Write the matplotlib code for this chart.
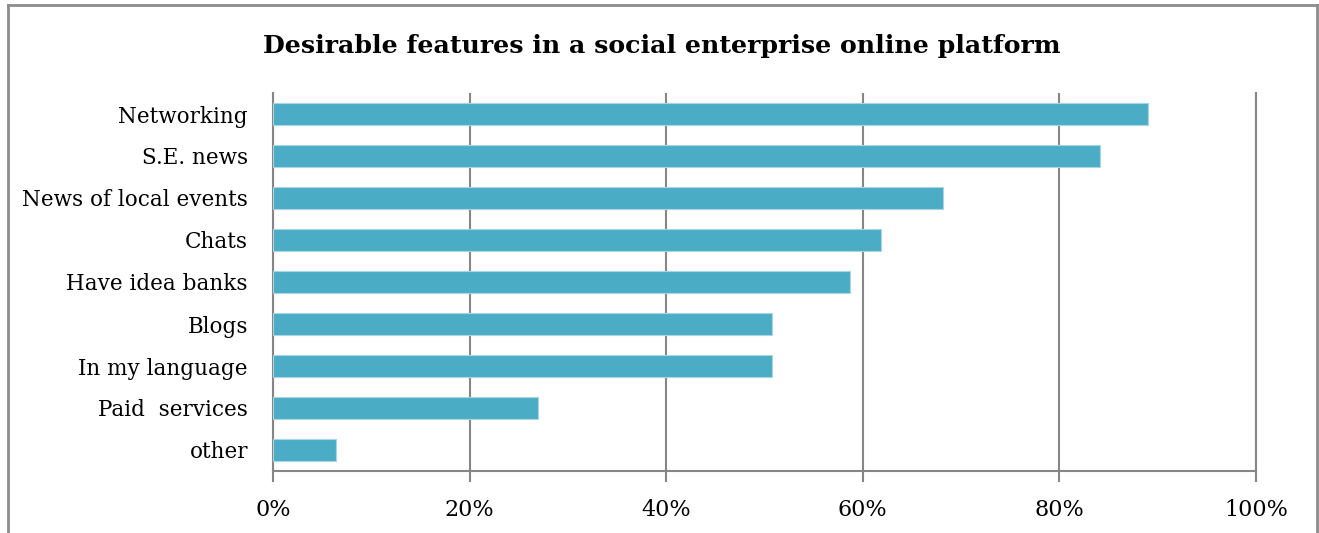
import matplotlib
matplotlib.use("Agg")
import matplotlib.pyplot as plt
from matplotlib.lines import Line2D
from matplotlib.ticker import FuncFormatter

categories = ["Networking", "S.E. news", "News of local events", "Chats",
              "Have idea banks", "Blogs", "In my language", "Paid  services", "other"]
values = [0.89, 0.841, 0.682, 0.619, 0.587, 0.508, 0.508, 0.27, 0.064]
xticks = [0, 0.2, 0.4, 0.6, 0.8, 1.0]

plt.rcParams['font.family'] = ['DejaVu Serif']

W, H = 1319, 533
fig = plt.figure(figsize=(W/100, H/100), dpi=100)
ax = fig.add_axes([273/W, 1-471/H, (1256-273)/W, (471-93)/H])

grid_c = "#868686"
n = len(categories)
ypos = list(range(n))[::-1]
ax.barh(ypos, values, height=0.53, color="#4BACC6", edgecolor="#A9D4E2", linewidth=0.8, zorder=3)
ax.set_xlim(0, 1)
ax.set_ylim(-0.5, n-0.5)
ax.set_yticks(ypos)
ax.set_yticklabels(categories, fontsize=15.5)
ax.set_xticks(xticks)
ax.xaxis.set_major_formatter(FuncFormatter(lambda v, p: f"{v*100:.0f}%"))
ax.tick_params(axis='x', labelsize=16, length=8, width=1.5, color=grid_c, pad=12)
ax.tick_params(axis='y', length=0, pad=18)
ax.grid(axis='x', color=grid_c, linewidth=1.5, zorder=0)
ax.spines['top'].set_visible(False)
for s in ['left', 'bottom', 'right']:
    ax.spines[s].set_color(grid_c)
    ax.spines[s].set_linewidth(1.5)

fig.text((262+1062)/2/W, 1-46/H, "Desirable features in a social enterprise online platform",
         ha='center', va='center', fontsize=18.2, fontweight='bold')

fc = "#8c8c8c"
fig.add_artist(Line2D([8/W, 8/W], [0, 1-5/H], color=fc, linewidth=2, transform=fig.transFigure))
fig.add_artist(Line2D([1317/W, 1317/W], [0, 1-5/H], color=fc, linewidth=2, transform=fig.transFigure))
fig.add_artist(Line2D([8/W, 1317/W], [1-5/H, 1-5/H], color=fc, linewidth=2, transform=fig.transFigure))

fig.savefig("out.png", dpi=100)
